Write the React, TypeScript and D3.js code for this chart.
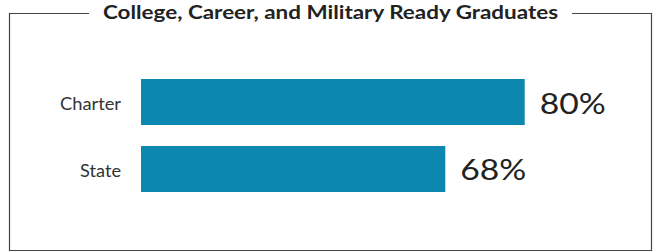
import React, { useEffect, useRef } from 'react';
import * as d3 from 'd3';

const title = 'College, Career, and Military Ready Graduates';
const categories = ['Charter', 'State'];
const values = [80, 68];

const W = 654;
const H = 252;

export default function App() {
  const ref = useRef<SVGSVGElement>(null);

  useEffect(() => {
    const svg = d3.select(ref.current);
    svg.selectAll('*').remove();

    const data = categories.map((c, i) => ({ cat: c, value: values[i] }));

    const x = d3.scaleLinear().domain([22, 100]).range([141, 657]);
    const y = d3
      .scaleBand()
      .domain(categories)
      .range([79, 192])
      .paddingInner(0.313);

    // title, stretched a little to match the wide geometric face
    const titleText = svg
      .append('text')
      .attr('x', 330.5)
      .attr('y', 19)
      .attr('text-anchor', 'middle')
      .attr('font-family', 'Lato, sans-serif')
      .attr('font-weight', 700)
      .attr('font-size', 18.5)
      .attr('fill', '#222')
      .attr('textLength', 455)
      .attr('lengthAdjust', 'spacingAndGlyphs')
      .text(title);

    const bb = (titleText.node() as SVGTextElement).getBBox();
    const gap = 14;
    const top = 13.5;
    svg
      .append('path')
      .attr(
        'd',
        `M${bb.x - gap},${top}H9.5V250.5H651.5V${top}H${bb.x + bb.width + gap}`
      )
      .attr('fill', 'none')
      .attr('stroke', '#444')
      .attr('stroke-width', 1.2);

    const bar = svg
      .selectAll('g.bar')
      .data(data)
      .join('g')
      .attr('class', 'bar')
      .attr('transform', d => `translate(0,${y(d.cat)})`);

    bar
      .append('rect')
      .attr('x', x(22))
      .attr('width', d => x(d.value) - x(22))
      .attr('height', y.bandwidth())
      .attr('fill', '#0b87b0');

    bar
      .append('text')
      .attr('x', 121)
      .attr('y', y.bandwidth() / 2 + 8)
      .attr('text-anchor', 'end')
      .attr('font-family', 'Lato, sans-serif')
      .attr('font-size', 17)
      .attr('fill', '#333')
      .attr('textLength', d => (d.cat === 'Charter' ? 61 : 41))
      .attr('lengthAdjust', 'spacingAndGlyphs')
      .text(d => d.cat);

    bar
      .append('text')
      .attr('x', d => x(d.value) + 15)
      .attr('y', y.bandwidth() / 2 + 11.5)
      .attr('font-family', 'Lato, sans-serif')
      .attr('font-size', 29)
      .attr('fill', '#222')
      .attr('textLength', 66)
      .attr('lengthAdjust', 'spacingAndGlyphs')
      .text(d => `${d.value}%`);
  }, []);

  return (
    <svg
      ref={ref}
      width={W}
      height={H}
      style={{ position: 'absolute', left: 0, top: 0, background: '#fff' }}
    />
  );
}
